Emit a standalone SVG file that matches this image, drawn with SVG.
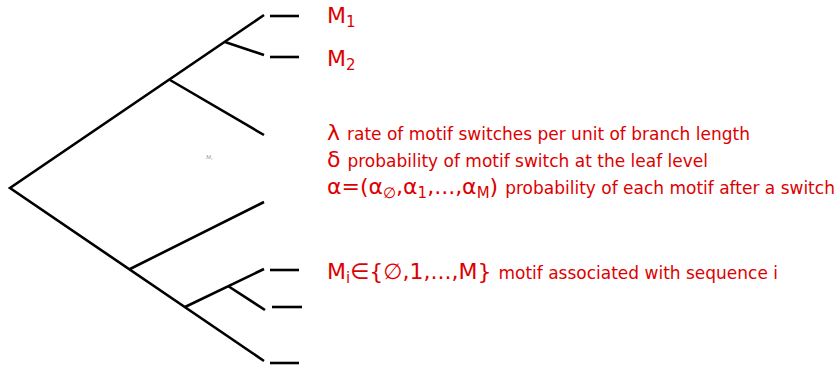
<svg xmlns="http://www.w3.org/2000/svg" width="838" height="365" viewBox="0 0 838 365">
<style>
.br{stroke:#000;stroke-width:2.6;fill:none;stroke-linecap:butt}
.t{font-family:"DejaVu Sans",sans-serif;fill:#dd0000}
.big{font-size:22px}
.sm{font-size:17px}
.sub{font-size:15px}
</style>
<rect width="838" height="365" fill="#fff"/>
<g id="connectors">
<path class="br" d="M264,15 L10,188 L264,361"/>
<path class="br" d="M170,80 L264,135"/>
<path class="br" d="M225,42 L264,55"/>
<path class="br" d="M130,269 L264,202"/>
<path class="br" d="M185,307 L264,269"/>
<path class="br" d="M228,286 L265,310"/>
</g>
<g id="leaf1"><path class="br" d="M270,16 H299"/><text class="t big" x="327" y="23">M<tspan class="sub" dy="4">1</tspan></text></g>
<g id="leaf2"><path class="br" d="M270,57 H299"/><text class="t big" x="327" y="66">M<tspan class="sub" dy="4">2</tspan></text></g>
<g id="leaf3"><path class="br" d="M270,270 H299"/></g>
<g id="leaf4"><path class="br" d="M272,307 H302"/></g>
<g id="leaf5"><path class="br" d="M270,363 H299"/></g>
<g id="label-mi"><text x="206" y="159" font-family="DejaVu Serif,serif" font-style="italic" font-size="5" fill="#888">M<tspan font-size="3.5" dy="1">i</tspan></text></g>
<g id="legend">
<text class="t big" x="327" y="140">λ <tspan class="sm">rate of motif switches per unit of branch length</tspan></text>
<text class="t big" x="327" y="167">δ <tspan class="sm">probability of motif switch at the leaf level</tspan></text>
<text class="t big" x="327" y="194">α=(α<tspan class="sub" dy="4">∅</tspan><tspan dy="-4">,α</tspan><tspan class="sub" dy="4">1</tspan><tspan dy="-4">,...,α</tspan><tspan class="sub" dy="4">M</tspan><tspan dy="-4">) </tspan><tspan class="sm">probability of each motif after a switch</tspan></text>
<text class="t big" x="327" y="279">M<tspan class="sub" dy="4">i</tspan><tspan dy="-4">∈{∅,1,...,M} </tspan><tspan class="sm">motif associated with sequence i</tspan></text>
</g>
</svg>
